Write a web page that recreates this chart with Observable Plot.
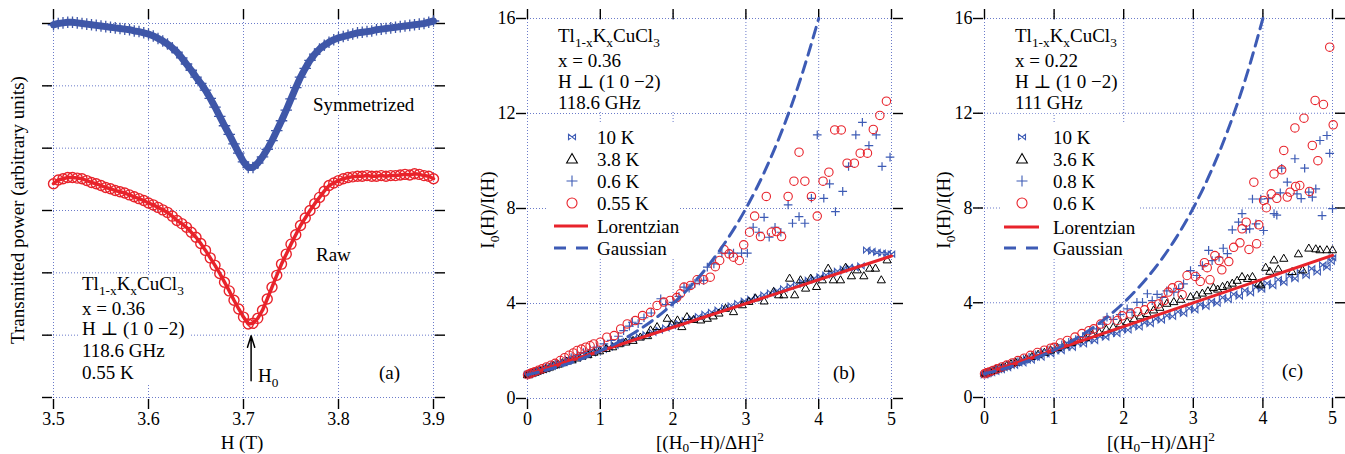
<!DOCTYPE html>
<html><head><meta charset="utf-8">
<script src="https://cdn.jsdelivr.net/npm/d3@7"></script>
<script src="https://cdn.jsdelivr.net/npm/@observablehq/plot@0.6"></script>
<style>
html,body{margin:0;padding:0;background:#fff;}
#fig{position:relative;width:1345px;height:454px;overflow:hidden;font-family:"Liberation Serif","DejaVu Serif","Times New Roman",serif;color:#000;background:#fff;}
.pn{position:absolute;top:0;}
.pn svg text{font-family:"Liberation Serif","DejaVu Serif","Times New Roman",serif;}
.t{position:absolute;font-size:19px;line-height:19px;white-space:nowrap;}
.box{position:absolute;background:#fff;}
.t sub{font-size:70%;vertical-align:-0.38em;line-height:0;}
.t sup{font-size:70%;vertical-align:0.6em;line-height:0;}
.xl sub{vertical-align:-0.22em;}
.lg{position:absolute;overflow:visible;}
</style></head><body><div id="fig"></div>
<script>
// ---------------- DATA ----------------
// Panel (a): H (T) vs transmitted power (arbitrary units, grid units)
const aSymmetrized = [[3.500,5.98],[3.505,6.00],[3.510,6.01],[3.515,6.02],[3.520,6.02],[3.525,6.01],[3.530,6.00],[3.535,5.99],[3.540,5.98],[3.545,5.97],[3.550,5.96],[3.555,5.95],[3.560,5.94],[3.565,5.93],[3.570,5.92],[3.575,5.91],[3.580,5.90],[3.585,5.88],[3.590,5.87],[3.595,5.85],[3.600,5.83],[3.605,5.80],[3.610,5.76],[3.615,5.72],[3.620,5.67],[3.625,5.61],[3.630,5.54],[3.635,5.45],[3.640,5.35],[3.645,5.25],[3.650,5.14],[3.655,5.04],[3.660,4.93],[3.665,4.80],[3.670,4.66],[3.675,4.51],[3.680,4.36],[3.685,4.22],[3.690,4.07],[3.695,3.92],[3.700,3.78],[3.705,3.69],[3.710,3.69],[3.715,3.76],[3.720,3.86],[3.725,3.98],[3.730,4.12],[3.735,4.28],[3.740,4.44],[3.745,4.61],[3.750,4.79],[3.755,4.97],[3.760,5.14],[3.765,5.28],[3.770,5.41],[3.775,5.51],[3.780,5.59],[3.785,5.65],[3.790,5.70],[3.795,5.74],[3.800,5.77],[3.805,5.79],[3.810,5.81],[3.815,5.83],[3.820,5.85],[3.825,5.86],[3.830,5.87],[3.835,5.88],[3.840,5.90],[3.845,5.91],[3.850,5.92],[3.855,5.93],[3.860,5.94],[3.865,5.95],[3.870,5.96],[3.875,5.97],[3.880,5.98],[3.885,5.99],[3.890,6.00],[3.895,6.02],[3.900,6.04]];
const aRaw = [[3.500,3.43],[3.505,3.49],[3.510,3.51],[3.515,3.53],[3.520,3.53],[3.525,3.52],[3.530,3.51],[3.535,3.48],[3.540,3.45],[3.545,3.43],[3.550,3.40],[3.555,3.37],[3.560,3.35],[3.565,3.32],[3.570,3.30],[3.575,3.28],[3.580,3.25],[3.585,3.22],[3.590,3.19],[3.595,3.16],[3.600,3.12],[3.605,3.09],[3.610,3.05],[3.615,3.01],[3.620,2.97],[3.625,2.91],[3.630,2.84],[3.635,2.79],[3.640,2.73],[3.645,2.65],[3.650,2.57],[3.655,2.47],[3.660,2.36],[3.665,2.24],[3.670,2.12],[3.675,1.99],[3.680,1.85],[3.685,1.71],[3.690,1.56],[3.695,1.42],[3.700,1.29],[3.705,1.18],[3.710,1.19],[3.715,1.27],[3.720,1.40],[3.725,1.58],[3.730,1.77],[3.735,1.96],[3.740,2.14],[3.745,2.30],[3.750,2.46],[3.755,2.61],[3.760,2.76],[3.765,2.88],[3.770,3.00],[3.775,3.11],[3.780,3.21],[3.785,3.31],[3.790,3.40],[3.795,3.44],[3.800,3.48],[3.805,3.51],[3.810,3.53],[3.815,3.54],[3.820,3.55],[3.825,3.55],[3.830,3.56],[3.835,3.55],[3.840,3.55],[3.845,3.56],[3.850,3.55],[3.855,3.56],[3.860,3.56],[3.865,3.57],[3.870,3.58],[3.875,3.57],[3.880,3.59],[3.885,3.58],[3.890,3.56],[3.895,3.55],[3.900,3.51]];
const aH0 = 3.708;
const aArrowY = [0.27, 0.99];
const aXTicks = [3.5, 3.6, 3.7, 3.8, 3.9];
const aYTicks = [0, 1, 2, 3, 4, 5, 6];

// Panel (b): x = 0.36, 118.6 GHz
const b10K = [[0,1.00],[0.01,1.02],[0.02,1.01],[0.04,1.05],[0.06,1.06],[0.08,1.09],[0.11,1.11],[0.14,1.15],[0.17,1.18],[0.21,1.22],[0.25,1.26],[0.29,1.31],[0.34,1.35],[0.39,1.41],[0.44,1.46],[0.50,1.52],[0.56,1.58],[0.62,1.64],[0.68,1.71],[0.75,1.78],[0.82,1.85],[0.89,1.92],[0.96,1.99],[1.04,2.07],[1.12,2.16],[1.20,2.24],[1.28,2.33],[1.36,2.41],[1.45,2.50],[1.54,2.59],[1.63,2.69],[1.72,2.78],[1.81,2.88],[1.90,2.97],[1.99,3.07],[2.08,3.17],[2.17,3.27],[2.26,3.37],[2.35,3.45],[2.44,3.55],[2.53,3.63],[2.62,3.72],[2.71,3.82],[2.80,3.90],[2.89,4.00],[2.98,4.10],[3.07,4.18],[3.16,4.26],[3.25,4.36],[3.34,4.44],[3.43,4.54],[3.52,4.62],[3.61,4.72],[3.70,4.80],[3.78,4.90],[3.86,4.98],[3.94,5.06],[4.02,5.12],[4.10,5.20],[4.18,5.28],[4.26,5.36],[4.34,5.45],[4.42,5.52],[4.50,5.50],[4.58,5.58],[4.66,6.25],[4.73,6.20],[4.80,6.15],[4.87,6.12],[4.94,6.10],[5.00,6.08]];
const b3_8K = [[0,0.98],[0.02,1.00],[0.04,1.03],[0.07,1.05],[0.10,1.08],[0.13,1.12],[0.17,1.16],[0.21,1.20],[0.26,1.25],[0.31,1.30],[0.36,1.37],[0.42,1.42],[0.48,1.48],[0.54,1.55],[0.61,1.60],[0.68,1.68],[0.75,1.76],[0.83,1.82],[0.91,1.92],[0.99,1.98],[1.08,2.08],[1.17,2.15],[1.26,2.28],[1.35,2.35],[1.45,2.42],[1.55,2.56],[1.65,2.62],[1.69,2.86],[1.78,3.00],[1.92,3.35],[1.98,3.10],[2.06,3.28],[2.12,3.00],[2.19,3.42],[2.28,3.30],[2.38,3.28],[2.47,3.35],[2.55,3.45],[2.63,3.57],[2.72,3.77],[2.83,3.63],[2.95,3.92],[3.04,4.06],[3.13,4.21],[3.25,4.08],[3.38,4.48],[3.45,4.34],[3.52,4.34],[3.60,5.04],[3.67,4.34],[3.75,4.97],[3.82,4.62],[3.89,5.04],[3.97,4.69],[4.05,4.97],[4.13,5.46],[4.20,4.97],[4.30,4.97],[4.37,5.50],[4.45,5.14],[4.53,5.39],[4.62,5.14],[4.70,5.46],[4.78,5.46],[4.86,4.97],[4.94,5.81]];
const b0_6K = [[0,1.00],[0.02,1.03],[0.05,1.06],[0.08,1.10],[0.12,1.14],[0.16,1.19],[0.21,1.25],[0.26,1.31],[0.32,1.38],[0.38,1.45],[0.45,1.53],[0.52,1.62],[0.60,1.72],[0.68,1.82],[0.77,1.93],[0.86,2.04],[0.95,2.16],[1.05,2.30],[1.15,2.45],[1.25,2.62],[1.32,2.86],[1.40,3.05],[1.44,3.21],[1.52,3.15],[1.60,3.40],[1.70,3.60],[1.83,4.20],[1.90,3.95],[2.00,4.05],[2.08,4.30],[2.15,4.69],[2.22,4.65],[2.30,4.85],[2.36,4.95],[2.42,4.97],[2.47,5.53],[2.56,5.67],[2.67,6.12],[2.77,6.12],[2.83,6.12],[2.94,6.12],[3.02,6.12],[3.10,7.21],[3.18,7.00],[3.25,7.63],[3.32,6.79],[3.40,7.21],[3.48,7.00],[3.58,8.15],[3.64,7.38],[3.73,7.66],[3.81,7.38],[3.90,8.43],[3.98,11.10],[4.07,8.43],[4.15,9.04],[4.23,7.87],[4.33,8.72],[4.41,9.77],[4.51,11.10],[4.60,11.63],[4.69,10.65],[4.79,11.10],[4.87,9.77],[4.98,10.16]];
const b0_55K = [[0,1.00],[0.03,1.04],[0.06,1.08],[0.10,1.13],[0.15,1.19],[0.20,1.25],[0.26,1.33],[0.32,1.40],[0.38,1.48],[0.45,1.60],[0.51,1.72],[0.57,1.82],[0.63,1.92],[0.68,2.02],[0.74,2.08],[0.80,2.16],[0.86,2.22],[0.91,2.30],[1.00,2.37],[1.09,2.58],[1.19,2.65],[1.28,2.93],[1.37,3.14],[1.48,3.28],[1.58,3.49],[1.69,3.63],[1.78,3.92],[1.87,4.06],[1.96,4.13],[2.05,4.25],[2.10,4.41],[2.15,4.69],[2.24,4.76],[2.33,5.00],[2.42,5.00],[2.51,5.11],[2.58,5.55],[2.64,5.81],[2.70,6.27],[2.77,6.09],[2.83,5.95],[2.91,5.81],[2.97,6.47],[3.05,7.00],[3.12,7.68],[3.20,6.82],[3.28,8.51],[3.35,7.00],[3.42,7.03],[3.49,6.82],[3.58,8.51],[3.66,9.15],[3.73,10.37],[3.81,9.15],[3.90,8.51],[3.98,7.68],[4.06,9.15],[4.14,9.53],[4.22,11.31],[4.31,11.31],[4.39,9.91],[4.49,9.91],[4.57,10.33],[4.67,10.33],[4.75,11.33],[4.84,11.92],[4.93,12.52]];

// Panel (c): x = 0.22, 111 GHz
const c10K = [[0,0.95],[0.01,1.00],[0.03,1.00],[0.05,1.02],[0.07,1.06],[0.10,1.05],[0.13,1.12],[0.16,1.10],[0.20,1.18],[0.24,1.18],[0.28,1.26],[0.33,1.26],[0.38,1.36],[0.43,1.36],[0.49,1.46],[0.55,1.46],[0.61,1.58],[0.67,1.58],[0.74,1.70],[0.81,1.70],[0.88,1.84],[0.95,1.84],[1.02,1.97],[1.10,1.98],[1.18,2.12],[1.26,2.12],[1.34,2.28],[1.42,2.26],[1.50,2.42],[1.58,2.40],[1.66,2.58],[1.74,2.55],[1.82,2.72],[1.90,2.70],[1.98,2.86],[2.06,2.85],[2.14,3.02],[2.22,2.98],[2.30,3.16],[2.38,3.12],[2.46,3.32],[2.54,3.27],[2.62,3.46],[2.70,3.42],[2.78,3.62],[2.86,3.55],[2.94,3.76],[3.02,3.70],[3.10,3.92],[3.18,3.85],[3.26,4.06],[3.34,3.98],[3.42,4.22],[3.50,4.14],[3.58,4.36],[3.66,4.28],[3.74,4.52],[3.82,4.42],[3.90,4.66],[3.98,4.58],[4.06,4.82],[4.14,4.72],[4.22,4.98],[4.30,4.86],[4.38,5.12],[4.46,5.02],[4.54,5.28],[4.62,5.16],[4.70,5.44],[4.78,5.30],[4.86,5.60],[4.92,5.50],[4.98,5.75],[5.00,5.90]];
const c3_6K = [[0,1.00],[0.02,1.02],[0.05,1.05],[0.08,1.08],[0.12,1.12],[0.16,1.17],[0.21,1.22],[0.26,1.27],[0.32,1.33],[0.38,1.40],[0.45,1.46],[0.52,1.54],[0.60,1.62],[0.68,1.70],[0.77,1.80],[0.86,1.88],[0.95,1.98],[1.05,2.08],[1.15,2.20],[1.25,2.30],[1.35,2.42],[1.45,2.50],[1.55,2.64],[1.65,2.72],[1.75,2.86],[1.85,2.95],[1.95,3.08],[2.05,3.18],[2.15,3.30],[2.24,3.42],[2.34,3.52],[2.43,3.67],[2.52,3.78],[2.62,3.95],[2.72,4.02],[2.82,4.12],[2.96,4.23],[3.05,4.30],[3.13,4.38],[3.21,4.48],[3.29,4.62],[3.35,4.55],[3.42,4.66],[3.49,4.72],[3.56,4.80],[3.63,4.92],[3.70,5.08],[3.78,5.00],[3.85,5.08],[3.94,4.80],[3.97,4.73],[4.04,5.47],[4.10,5.30],[4.16,5.78],[4.22,5.40],[4.30,5.85],[4.42,5.29],[4.51,6.04],[4.57,5.36],[4.66,6.28],[4.76,6.25],[4.82,6.21],[4.92,6.21],[5.00,6.21]];
const c0_8K = [[0,1.00],[0.02,1.03],[0.05,1.06],[0.08,1.10],[0.12,1.14],[0.17,1.19],[0.22,1.24],[0.28,1.31],[0.34,1.37],[0.41,1.45],[0.48,1.52],[0.56,1.62],[0.64,1.70],[0.73,1.80],[0.82,1.90],[0.91,2.00],[1.01,2.10],[1.11,2.22],[1.21,2.33],[1.31,2.45],[1.41,2.57],[1.51,2.72],[1.61,2.90],[1.70,3.10],[1.76,3.39],[1.85,3.30],[1.95,3.50],[2.05,3.74],[2.12,3.60],[2.19,4.02],[2.27,4.02],[2.34,4.38],[2.41,4.09],[2.48,4.35],[2.55,4.23],[2.62,4.50],[2.72,4.45],[2.79,4.60],[2.86,4.80],[2.96,5.36],[3.05,5.15],[3.13,5.57],[3.22,6.21],[3.27,5.78],[3.37,5.92],[3.43,6.30],[3.49,6.07],[3.56,7.08],[3.65,7.40],[3.70,7.76],[3.76,7.10],[3.81,7.12],[3.85,8.38],[3.90,7.33],[3.97,8.38],[4.01,7.05],[4.08,8.40],[4.16,7.76],[4.20,7.70],[4.25,8.64],[4.27,9.68],[4.35,9.09],[4.46,10.08],[4.49,8.60],[4.55,8.40],[4.60,9.68],[4.66,8.67],[4.71,8.46],[4.76,8.81],[4.82,10.85],[4.85,7.68],[4.92,11.06],[4.96,10.31],[5.00,7.97]];
const c0_6K = [[0,1.00],[0.03,1.04],[0.07,1.08],[0.12,1.14],[0.18,1.21],[0.25,1.29],[0.32,1.37],[0.40,1.46],[0.48,1.56],[0.57,1.66],[0.66,1.78],[0.76,1.90],[0.86,2.00],[0.95,2.08],[1.00,2.12],[1.09,2.30],[1.19,2.41],[1.30,2.55],[1.40,2.70],[1.50,2.82],[1.57,2.90],[1.67,3.10],[1.76,3.25],[1.91,3.25],[1.98,3.45],[2.10,3.53],[2.20,3.62],[2.30,3.70],[2.40,3.85],[2.50,3.95],[2.58,4.09],[2.64,4.45],[2.70,4.63],[2.79,4.73],[2.84,4.34],[2.91,5.15],[3.03,5.11],[3.10,4.90],[3.16,5.69],[3.20,5.48],[3.24,4.97],[3.31,5.99],[3.37,5.78],[3.41,5.39],[3.51,5.74],[3.58,6.34],[3.67,6.53],[3.70,7.12],[3.76,7.40],[3.80,6.25],[3.87,9.09],[3.91,6.49],[3.94,7.29],[4.01,8.32],[4.05,8.01],[4.12,8.60],[4.16,9.44],[4.20,8.41],[4.27,9.61],[4.30,10.43],[4.35,8.46],[4.39,8.67],[4.46,11.38],[4.47,8.91],[4.53,8.95],[4.59,11.79],[4.67,8.70],[4.71,10.64],[4.75,12.54],[4.79,10.00],[4.87,12.37],[4.96,14.79],[5.01,11.51]];

// Model curves
const lorentzian = [[0,1],[5,6]];
const gaussian = [[0,1],[0.25,1.19],[0.5,1.41],[0.75,1.68],[1,2],[1.25,2.38],[1.5,2.83],[1.75,3.36],[2,4],[2.25,4.76],[2.5,5.66],[2.75,6.73],[3,8],[3.25,9.51],[3.5,11.31],[3.75,13.45],[4,16]];
const bcXTicks = [0, 1, 2, 3, 4, 5];
const bcYTicks = [0, 4, 8, 12, 16];

// ---------------- STYLE ----------------
const FONT = '"Liberation Serif","DejaVu Serif","Times New Roman",serif';
const BLUE = "#3d5bb5", RED = "#e8232b", SYMBLUE = "#3f57a8";
const GRID = {stroke: "#3a4fb8", strokeOpacity: 0.75, strokeDasharray: "1,2", strokeWidth: 1};
const bowtie = {draw(ctx, size) {const r = Math.sqrt(size / Math.PI); const h = r * 0.9; ctx.moveTo(-r, -h); ctx.lineTo(r, h); ctx.lineTo(r, -h); ctx.lineTo(-r, h); ctx.closePath();}};
const X = d => d[0], Y = d => d[1];

function frameMarks(xt, yt, yLabels) {
  const tk = {fill: "none", label: null, strokeWidth: 1.4, stroke: "#000"};
  return [
    Plot.gridX(xt, GRID), Plot.gridY(yt, GRID),
    Plot.axisX(xt, {...tk, anchor: "bottom", tickSize: 5}),
    Plot.axisX(xt, {...tk, anchor: "bottom", tickSize: -5}),
    Plot.axisX(xt, {...tk, anchor: "top", tickSize: 5}),
    Plot.axisX(xt, {...tk, anchor: "top", tickSize: -5}),
    Plot.axisY(yt, {...tk, anchor: "left", tickSize: 5}),
    Plot.axisY(yt, {...tk, anchor: "left", tickSize: -5}),
    Plot.axisY(yt, {...tk, anchor: "right", tickSize: 5}),
    Plot.axisY(yt, {...tk, anchor: "right", tickSize: -5}),
    Plot.axisX(xt, {anchor: "bottom", tickSize: 0, tickPadding: 8, label: null, fontSize: 18, fontFamily: FONT}),
    yLabels ? Plot.axisY(yt, {anchor: "left", tickSize: 0, tickPadding: 6, label: null, fontSize: 18, fontFamily: FONT}) : null
  ];
}

function mount(plot, left, width) {
  const d = document.createElement("div");
  d.className = "pn"; d.style.left = left + "px"; d.style.width = width + "px";
  d.appendChild(plot); fig.appendChild(d);
}
const fig = document.getElementById("fig");
const baseStyle = {fontFamily: FONT, fontSize: "18px", background: "transparent", color: "#000", overflow: "visible"};

// Panel (a)
mount(Plot.plot({
  width: 450, height: 454, marginLeft: 47, marginRight: 11, marginTop: 13, marginBottom: 50,
  style: baseStyle,
  x: {domain: [3.5, 3.9], insetLeft: 6, insetRight: 6, axis: null},
  y: {domain: [0, 6], insetTop: 10, insetBottom: 7, axis: null},
  marks: [
    ...frameMarks(aXTicks, aYTicks, false),
    Plot.line(aSymmetrized, {x: X, y: Y, stroke: SYMBLUE, strokeWidth: 7}),
    Plot.dot(aSymmetrized, {x: X, y: Y, symbol: "plus", r: 3.8, stroke: SYMBLUE, strokeWidth: 1.3}),
    Plot.line(aRaw, {x: X, y: Y, stroke: RED, strokeWidth: 3.5}),
    Plot.dot(aRaw, {x: X, y: Y, symbol: "circle", r: 5, stroke: RED, fill: "none", strokeWidth: 1.4}),
    Plot.arrow([aH0], {x1: d => d, x2: d => d, y1: () => aArrowY[0], y2: () => aArrowY[1], stroke: "#000", strokeWidth: 1.5, headLength: 12, headAngle: 35})
  ]
}), 0, 450);

function scatterPanel(left, width, mL, mR, mB, insL, insR, insB, series) {
  return mount(Plot.plot({
    width, height: 454, marginLeft: mL, marginRight: mR, marginTop: 13, marginBottom: mB,
    style: baseStyle,
    x: {domain: [0, 5], insetLeft: insL, insetRight: insR, axis: null},
    y: {domain: [0, 16], insetTop: 5, insetBottom: insB, axis: null},
    marks: [
      ...frameMarks(bcXTicks, bcYTicks, true),
      Plot.dot(series[0], {x: X, y: Y, symbol: bowtie, r: 3.2, stroke: BLUE, fill: "none", strokeWidth: 1.1}),
      Plot.dot(series[1], {x: X, y: Y, symbol: "triangle2", r: 3.9, stroke: "#000", fill: "none", strokeWidth: 1}),
      Plot.dot(series[2], {x: X, y: Y, symbol: "plus", r: 2.9, stroke: BLUE, strokeWidth: 1.2}),
      Plot.dot(series[3], {x: X, y: Y, symbol: "circle", r: 4.2, stroke: RED, fill: "none", strokeWidth: 1.1}),
      Plot.line(lorentzian, {x: X, y: Y, stroke: RED, strokeWidth: 3}),
      Plot.line(gaussian, {x: X, y: Y, stroke: BLUE, strokeWidth: 3, strokeDasharray: "11,7", curve: "monotone-x"})
    ]
  }), left, width);
}
scatterPanel(450, 450, 71, 3, 50, 6, 6, 6, [b10K, b3_8K, b0_6K, b0_55K]);
scatterPanel(900, 445, 78, 6, 51, 6, 7, 6, [c10K, c3_6K, c0_8K, c0_6K]);

// ---------------- ANNOTATIONS ----------------
function box(l, t, w, h) {const d = document.createElement("div"); d.className = "box"; Object.assign(d.style, {left: l + "px", top: t + "px", width: w + "px", height: h + "px"}); fig.appendChild(d);}
function txt(html, l, cy, extra, cls) {const d = document.createElement("div"); d.className = "t" + (cls ? " " + cls : ""); d.innerHTML = html; d.style.left = l + "px"; d.style.top = (cy - 9.5) + "px"; if (extra) Object.assign(d.style, extra); fig.appendChild(d); return d;}
const formula = 'Tl<sub>1-x</sub>K<sub>x</sub>CuCl<sub>3</sub>';
const perp = 'H \u22A5 (1 0 \u22122)';

// (a)
box(78, 275, 112, 110);
txt(formula, 82, 283); txt('x = 0.36', 82, 308); txt(perp, 82, 328); txt('118.6 GHz', 82, 350); txt('0.55 K', 82, 372);
txt('Symmetrized', 313, 104, {background: "#fff"});
txt('Raw', 316, 254, {background: "#fff"});
txt('H<sub>0</sub>', 258, 375);
txt('(a)', 379, 372);
txt('H (T)', 242, 442, {transform: "translateX(-50%)"});
txt('Transmitted power (arbitrary units)', 17, 210, {transform: "translate(-50%,-50%) rotate(-90deg)", top: "210px", lineHeight: "19px"});

// legend helper
function legendSym(type, cx, cy) {
  const ns = "http://www.w3.org/2000/svg";
  const s = document.createElementNS(ns, "svg");
  s.setAttribute("class", "lg"); s.setAttribute("width", 20); s.setAttribute("height", 20);
  s.style.left = (cx - 10) + "px"; s.style.top = (cy - 10) + "px";
  const p = document.createElementNS(ns, "path");
  const shapes = {
    bowtie: ["M6.5,7.3L13.5,12.7L13.5,7.3L6.5,12.7Z", BLUE],
    triangle: ["M10,4.5L15.4,14L4.6,14Z", "#000"],
    plus: ["M4.5,10H15.5M10,4.5V15.5", BLUE],
    circle: ["M15,10A5,5 0 1,1 5,10A5,5 0 1,1 15,10Z", RED]
  };
  p.setAttribute("d", shapes[type][0]); p.setAttribute("stroke", shapes[type][1]); p.setAttribute("fill", "none"); p.setAttribute("stroke-width", 1.1);
  s.appendChild(p); fig.appendChild(s);
}
function legendLine(x1, x2, cy, color, dash) {
  const ns = "http://www.w3.org/2000/svg";
  const s = document.createElementNS(ns, "svg");
  s.setAttribute("class", "lg"); s.setAttribute("width", x2 - x1); s.setAttribute("height", 6);
  s.style.left = x1 + "px"; s.style.top = (cy - 3) + "px";
  const l = document.createElementNS(ns, "line");
  l.setAttribute("x1", 0); l.setAttribute("x2", x2 - x1); l.setAttribute("y1", 3); l.setAttribute("y2", 3);
  l.setAttribute("stroke", color); l.setAttribute("stroke-width", 3);
  if (dash) l.setAttribute("stroke-dasharray", dash);
  s.appendChild(l); fig.appendChild(s);
}
function legend(symX, labX, lineX1, lineX2, rows, labels) {
  const types = ["bowtie", "triangle", "plus", "circle"];
  types.forEach((t, i) => {legendSym(t, symX, rows[i]); txt(labels[i], labX, rows[i]);});
  legendLine(lineX1, lineX2, rows[4], RED); txt('Lorentzian', labX, rows[4]);
  legendLine(lineX1, lineX2, rows[5], BLUE, "12,10"); txt('Gaussian', labX, rows[5]);
}

// (b)
box(546, 21, 134, 89);
txt(formula, 558, 35); txt('x = 0.36', 558, 60); txt(perp, 558, 81); txt('118.6 GHz', 558, 102);
box(546, 124, 134, 133);
legend(572, 597, 554, 588, [137, 159, 181, 203, 226, 248], ['10 K', '3.8 K', '0.6 K', '0.55 K']);
txt('(b)', 833, 372);
txt('I<sub>0</sub>(H)/I(H)', 487, 210, {transform: "translate(-50%,-50%) rotate(-90deg)", top: "210px"});
txt('[(H<sub>0</sub>\u2212H)/\u0394H]<sup>2</sup>', 710, 442, {transform: "translateX(-50%)"}, "xl");

// (c)
box(1003, 21, 114, 92);
txt(formula, 1015, 35); txt('x = 0.22', 1015, 60); txt(perp, 1015, 81); txt('111 GHz', 1015, 102);
box(1000, 124, 138, 134);
legend(1022, 1053, 1004, 1039, [137, 159, 181, 203, 227, 248], ['10 K', '3.6 K', '0.8 K', '0.6 K']);
txt('(c)', 1282, 370);
txt('I<sub>0</sub>(H)/I(H)', 943, 210, {transform: "translate(-50%,-50%) rotate(-90deg)", top: "210px"});
txt('[(H<sub>0</sub>\u2212H)/\u0394H]<sup>2</sup>', 1161, 442, {transform: "translateX(-50%)"}, "xl");
</script></body></html>
